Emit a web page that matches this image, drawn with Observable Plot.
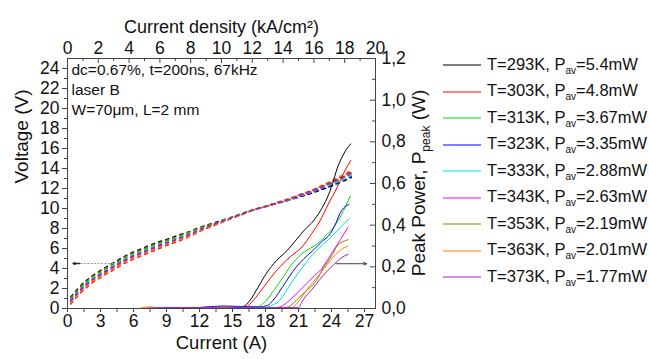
<!DOCTYPE html>
<html>
<head>
<meta charset="utf-8">
<script src="https://cdn.jsdelivr.net/npm/d3@7"></script>
<script src="https://cdn.jsdelivr.net/npm/@observablehq/plot@0.6"></script>
<style>
  html, body { margin: 0; padding: 0; background: #fff; }
  #wrap { position: relative; width: 649px; height: 359px; font-family: "Liberation Sans", Arial, sans-serif; }
  #legend { position: absolute; left: 443px; top: 52px; }
  .row { display: flex; align-items: center; height: 26.5px; font-size: 16.5px; color: #111; white-space: nowrap; }
  .row svg { margin-right: 6px; display: block; }
  .row sub { font-size: 10px; vertical-align: -4px; }
</style>
</head>
<body>
<div id="wrap"><div id="legend"></div></div>
<script>
// ---------- data ----------
const temps = ["293", "303", "313", "323", "333", "343", "353", "363", "373"];
const pav = ["5.4", "4.8", "3.67", "3.35", "2.88", "2.63", "2.19", "2.01", "1.77"];
const seriesColors = ["#000000", "#ff0000", "#00e000", "#0000ff", "#00e0e0", "#ff00ff", "#808000", "#ff8000", "#a020c0"];

// voltage (V) vs current (A), shared current grid
const currentV = [0.3, 1, 2, 3, 4, 5, 6, 7, 8, 9, 10, 11, 12, 13, 14, 15, 16, 17, 18, 19, 20, 21, 22, 23, 24, 25, 25.8];
const v293 = [1.15, 2.05, 3.05, 3.8, 4.45, 5.1, 5.65, 6.1, 6.55, 6.9, 7.3, 7.65, 8.1, 8.45, 8.8, 9.15, 9.55, 9.9, 10.2, 10.5, 10.8, 11.15, 11.45, 11.85, 12.25, 12.7, 13.1];
const v303 = [0.45, 1.35, 2.35, 3.1, 3.75, 4.4, 4.95, 5.4, 5.85, 6.3, 6.7, 7.15, 7.7, 8.15, 8.6, 9.05, 9.45, 9.9, 10.2, 10.6, 10.9, 11.35, 11.7, 12.2, 12.7, 13.25, 13.75];
const v313 = [0.95, 1.85, 2.85, 3.6, 4.25, 4.9, 5.45, 5.9, 6.35, 6.75, 7.1, 7.5, 8.0, 8.35, 8.75, 9.15, 9.5, 9.9, 10.2, 10.55, 10.85, 11.2, 11.55, 12.0, 12.45, 12.9, 13.35];
const v323 = [0.8, 1.7, 2.7, 3.45, 4.1, 4.75, 5.3, 5.75, 6.2, 6.6, 7.0, 7.4, 7.9, 8.3, 8.7, 9.1, 9.5, 9.9, 10.2, 10.5, 10.8, 11.15, 11.5, 11.9, 12.3, 12.8, 13.2];
const v333 = [0.85, 1.75, 2.75, 3.5, 4.15, 4.8, 5.35, 5.8, 6.25, 6.65, 7.05, 7.45, 7.95, 8.3, 8.7, 9.1, 9.5, 9.9, 10.2, 10.55, 10.8, 11.2, 11.55, 12.0, 12.4, 12.85, 13.3];
const v343 = [0.65, 1.55, 2.55, 3.3, 3.95, 4.6, 5.15, 5.6, 6.05, 6.45, 6.9, 7.3, 7.8, 8.25, 8.65, 9.05, 9.5, 9.9, 10.2, 10.55, 10.85, 11.25, 11.6, 12.05, 12.55, 13.05, 13.5];
const v353 = [1.05, 1.95, 2.95, 3.7, 4.35, 5.0, 5.55, 6.0, 6.45, 6.8, 7.2, 7.6, 8.05, 8.4, 8.75, 9.15, 9.55, 9.9, 10.2, 10.55, 10.85, 11.3, 11.65, 12.1, 12.55, 13.1, 13.55];
const v363 = [0.55, 1.45, 2.45, 3.2, 3.85, 4.5, 5.05, 5.5, 5.95, 6.4, 6.8, 7.2, 7.75, 8.2, 8.6, 9.05, 9.45, 9.9, 10.2, 10.6, 10.95, 11.35, 11.75, 12.25, 12.8, 13.35, 13.85];
const v373 = [0.75, 1.65, 2.65, 3.4, 4.05, 4.7, 5.25, 5.7, 6.15, 6.55, 6.95, 7.35, 7.85, 8.3, 8.7, 9.1, 9.5, 9.9, 10.2, 10.55, 10.9, 11.3, 11.7, 12.15, 12.65, 13.15, 13.65];

// peak power (W) vs current (A), per series
const iP293 = [6.5, 10, 13, 15, 16, 16.6, 17.3, 18.1, 19, 20, 20.8, 21.6, 22.35, 23, 23.6, 24.1, 24.5, 24.9, 25.3, 25.75];
const pP293 = [0, 0.002, 0.004, 0.006, 0.01, 0.04, 0.1, 0.17, 0.23, 0.28, 0.33, 0.38, 0.42, 0.47, 0.53, 0.6, 0.67, 0.72, 0.76, 0.79];
const iP303 = [6.5, 10, 13, 15, 16.3, 16.9, 17.8, 18.5, 19.3, 20.3, 21.4, 22.2, 22.95, 23.7, 24.5, 25.1, 25.75];
const pP303 = [0, 0.002, 0.004, 0.006, 0.01, 0.04, 0.1, 0.15, 0.2, 0.25, 0.3, 0.36, 0.42, 0.5, 0.58, 0.65, 0.71];
const iP313 = [7, 12, 15, 17.2, 18.1, 18.8, 19.6, 20.5, 21.5, 22.7, 23.5, 24.2, 24.9, 25.7];
const pP313 = [0, 0.003, 0.005, 0.008, 0.04, 0.09, 0.15, 0.22, 0.27, 0.31, 0.35, 0.39, 0.45, 0.54];
const iP323 = [7, 12, 14, 15.5, 17.5, 18.2, 18.7, 19.5, 20.8, 21.5, 22.35, 23.1, 23.9, 24.4, 24.8, 25.6];
const pP323 = [0, 0.005, 0.012, 0.01, 0.008, 0.015, 0.04, 0.1, 0.2, 0.24, 0.28, 0.32, 0.36, 0.41, 0.46, 0.5];
const iP333 = [7, 12, 15, 18, 18.6, 19.3, 20.3, 21.4, 22.3, 23.3, 24.1, 24.8, 25.6];
const pP333 = [0, 0.003, 0.006, 0.006, 0.015, 0.04, 0.12, 0.2, 0.26, 0.31, 0.35, 0.39, 0.43];
const iP343 = [7, 12, 15, 19, 19.6, 20.2, 21, 21.75, 22.5, 23.1, 23.6, 24.2, 24.8, 25.5];
const pP343 = [0, 0.002, 0.005, 0.005, 0.015, 0.04, 0.08, 0.12, 0.16, 0.19, 0.23, 0.28, 0.33, 0.39];
const iP353 = [7, 12, 16, 19.8, 20.3, 20.8, 21.4, 22.05, 22.7, 23.2, 23.6, 24.1, 24.5, 25, 25.5];
const pP353 = [0, 0.002, 0.004, 0.004, 0.015, 0.04, 0.07, 0.1, 0.14, 0.19, 0.22, 0.26, 0.3, 0.32, 0.33];
const iP363 = [6.5, 7.5, 8.5, 12, 16, 20.3, 20.8, 21.1, 21.9, 22.7, 23.3, 23.9, 24.4, 24.8, 25.5];
const pP363 = [0, 0.008, 0, 0.002, 0.004, 0.004, 0.02, 0.04, 0.1, 0.15, 0.19, 0.23, 0.26, 0.28, 0.3];
const iP373 = [7, 9, 12, 14, 16, 21, 21.4, 22.2, 22.95, 23.6, 24.2, 24.8, 25.5];
const pP373 = [0, 0.004, 0.004, 0.008, 0.004, 0.004, 0.04, 0.09, 0.14, 0.18, 0.21, 0.24, 0.26];

// axes
const currentTicks = [0, 3, 6, 9, 12, 15, 18, 21, 24, 27];
const currentMinor = [1.5, 4.5, 7.5, 10.5, 13.5, 16.5, 19.5, 22.5, 25.5];
const voltTicks = [0, 2, 4, 6, 8, 10, 12, 14, 16, 18, 20, 22, 24];
const voltMinor = [1, 3, 5, 7, 9, 11, 13, 15, 17, 19, 21, 23];
const densTicks = [0, 2, 4, 6, 8, 10, 12, 14, 16, 18, 20];
const densMinor = [1, 3, 5, 7, 9, 11, 13, 15, 17, 19];
const powerTicks = [0, 0.2, 0.4, 0.6, 0.8, 1.0, 1.2];
const powerMinor = [0.1, 0.3, 0.5, 0.7, 0.9, 1.1];

// annotations
const leftArrow = [{x1: 4.2, y1: 4.5, x2: 0.5, y2: 4.5}];
const rightArrow = [{x1: 24.4, p: 0.215, x2: 27.2}];
const notes = ["dc=0.67%, t=200ns, 67kHz", "laser B", "W=70\u03bcm, L=2 mm"];

// device geometry: W = 70 µm, L = 2 mm  -> area in cm²; kA/cm² -> A
const areaCm2 = 0.007 * 0.2;
const densToA = d => d * areaCm2 * 1000;
// right axis: 0..1.2 W spans the same height as 0..25 V
const vMax = 25, pMax = 1.2;
const pToV = p => p * vMax / pMax;

// ---------- tidy tables ----------
const labels = temps.map(t => `T=${t}K`);
const voltages = [v293, v303, v313, v323, v333, v343, v353, v363, v373];
const powerI = [iP293, iP303, iP313, iP323, iP333, iP343, iP353, iP363, iP373];
const powerP = [pP293, pP303, pP313, pP323, pP333, pP343, pP353, pP363, pP373];
const vRows = labels.flatMap((s, i) => currentV.map((c, j) => ({series: s, I: c, V: voltages[i][j]})));
const pRows = labels.flatMap((s, i) => powerI[i].map((c, j) => ({series: s, I: c, P: powerP[i][j]})));

const font = '"Liberation Sans", Arial, sans-serif';
const frameW = 649 - 67 - 274, frameH = 359 - 58 - 51;

const chart = Plot.plot({
  width: 649, height: 359,
  marginLeft: 67, marginRight: 274, marginTop: 58, marginBottom: 51,
  x: {domain: [0, 28]},
  y: {domain: [0, vMax]},
  color: {domain: labels, range: seriesColors},
  style: {fontFamily: font, fontSize: "17px", color: "#111", background: "transparent", overflow: "visible"},
  marks: [
    // voltage curves (dashed bundles)
    Plot.line(vRows, {x: "I", y: "V", z: "series", stroke: "series", strokeWidth: 1.5, strokeDasharray: "3,4.5", curve: "monotone-x"}),
    // power curves
    Plot.line(pRows, {x: "I", y: d => pToV(d.P), z: "series", stroke: "series", strokeWidth: 1, curve: "monotone-x"}),
    // arrows
    Plot.link(leftArrow, {x1: "x1", y1: "y1", x2: d => d.x2 + 0.5, y2: "y2", stroke: "#999", strokeDasharray: "2,1.5", strokeWidth: 1}),
    Plot.arrow(leftArrow, {x1: d => d.x2 + 0.6, y1: "y1", x2: "x2", y2: "y2", stroke: "#222", strokeWidth: 1.3, headLength: 5, headAngle: 50}),
    Plot.arrow(rightArrow, {x1: "x1", y1: d => pToV(d.p), x2: "x2", y2: d => pToV(d.p), stroke: "#444", strokeWidth: 1, headLength: 5, headAngle: 45}),
    // notes
    Plot.text([notes.join("\n")], {frameAnchor: "top-left", dx: 4, dy: 2, lineHeight: 1.29, fontSize: 15.5, textAnchor: "start", lineAnchor: "top", fill: "#111"}),
    // frame
    Plot.frame({stroke: "#444", strokeWidth: 1}),
    // left axis (outward ticks)
    Plot.axisY({ticks: voltTicks, tickSize: 5, tickPadding: 3, label: null, fontSize: 17.5, stroke: "#444"}),
    Plot.axisY({ticks: voltMinor, tickSize: 3, tickFormat: () => "", label: null, stroke: "#444"}),
    // bottom axis (outward ticks)
    Plot.axisX({ticks: currentTicks, tickSize: 4, tickPadding: 2, label: null, fontSize: 17.5, stroke: "#444"}),
    Plot.axisX({ticks: currentMinor, tickSize: 4, tickFormat: () => "", label: null, stroke: "#444"}),
    // top axis: current density (inward ticks)
    Plot.axisX({anchor: "top", ticks: densTicks.map(densToA), tickFormat: v => String(Math.round(v / densToA(1))), tickSize: 0, tickPadding: 5, label: null, fontSize: 17.5}),
    Plot.tickX(densTicks.map(densToA), {x: d => d, insetBottom: frameH - 5, stroke: "#444"}),
    Plot.tickX(densMinor.map(densToA), {x: d => d, insetBottom: frameH - 3, stroke: "#444"}),
    // right axis: peak power (inward ticks)
    Plot.axisY({anchor: "right", ticks: powerTicks.map(pToV), tickFormat: v => (v * pMax / vMax).toFixed(1).replace(".", ","), tickSize: 0, tickPadding: 6, label: null, fontSize: 17.5}),
    Plot.tickY(powerTicks.map(pToV), {y: d => d, insetLeft: frameW - 5, stroke: "#444"}),
    Plot.tickY(powerMinor.map(pToV), {y: d => d, insetLeft: frameW - 3, stroke: "#444"}),
    // axis titles
    Plot.text(["Current (A)"], {frameAnchor: "bottom", dy: 40, fontSize: 18.5, fill: "#111"}),
    Plot.text(["Current density (kA/cm\u00b2)"], {frameAnchor: "top", dy: -38, fontSize: 18, fill: "#111"}),
    Plot.text(["Voltage (V)"], {frameAnchor: "left", dx: -46, rotate: -90, fontSize: 19, fill: "#111"})
  ]
});

// right axis title with subscript
const xs = chart.scale("x"), ys = chart.scale("y");
const rt = d3.select(chart).append("text")
  .attr("transform", `translate(${xs.apply(28) + 50},${ys.apply(vMax / 2)}) rotate(-90)`)
  .attr("text-anchor", "middle")
  .attr("font-family", font).attr("font-size", 19).attr("fill", "#111");
rt.append("tspan").text("Peak Power, P");
rt.append("tspan").attr("font-size", 12).attr("dy", 5).text("peak");
rt.append("tspan").attr("dy", -5).text(" (W)");

document.getElementById("wrap").prepend(chart);

// legend
const legend = d3.select("#legend");
labels.forEach((s, i) => {
  const row = legend.append("div").attr("class", "row");
  const sw = row.append("svg").attr("width", 38).attr("height", 6);
  sw.append("line").attr("x1", 0).attr("x2", 38).attr("y1", 3).attr("y2", 3)
    .attr("stroke", seriesColors[i]).attr("stroke-width", 1.2);
  const t = row.append("span");
  t.append("span").text(`T=${temps[i]}K, P`);
  t.append("sub").text("av");
  t.append("span").text(`=${pav[i]}mW`);
});
</script>
</body>
</html>
